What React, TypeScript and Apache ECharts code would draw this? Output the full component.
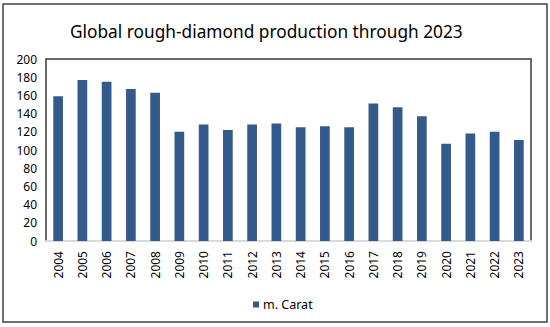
import React, { useEffect, useRef } from "react";
import * as echarts from "echarts";

const years = ["2004","2005","2006","2007","2008","2009","2010","2011","2012","2013","2014","2015","2016","2017","2018","2019","2020","2021","2022","2023"];
const carats = [159, 177, 175, 167, 163, 120, 128, 122, 128, 129, 125, 126, 125, 151, 147, 137, 107, 118, 120, 111];
const seriesName = "m. Carat";
const titleText = "Global rough-diamond production through 2023";

const FONT = "'Noto Sans', sans-serif";

export default function App() {
  const ref = useRef<HTMLDivElement>(null);
  useEffect(() => {
    if (!ref.current) return;
    const chart = echarts.init(ref.current, null, { renderer: "svg" });
    chart.setOption({
      animation: false,
      backgroundColor: "#ffffff",
      title: {
        text: titleText,
        left: 65,
        top: 18,
        textStyle: { fontFamily: FONT, fontSize: 17.3, fontWeight: "normal", color: "#000" },
      },
      grid: {
        left: 46,
        right: 19,
        top: 59,
        bottom: 86,
        show: true,
        borderColor: "#3a3a3a",
        borderWidth: 1.5,
        backgroundColor: "transparent",
      },
      legend: {
        data: [seriesName],
        left: 248,
        top: 293,
        itemWidth: 6,
        itemHeight: 6,
        itemGap: 4,
        icon: "rect",
        textStyle: { fontFamily: FONT, fontSize: 12.5, color: "#000", padding: [0, 0, 0, -1] },
      },
      xAxis: {
        type: "category",
        data: years,
        axisLine: { show: true, lineStyle: { color: "#d9d9d9", width: 2 } },
        axisTick: { show: false },
        axisLabel: { rotate: 90, fontFamily: FONT, fontSize: 12, color: "#000", margin: 10 },
      },
      yAxis: {
        type: "value",
        min: 0,
        max: 200,
        interval: 20,
        splitLine: { show: false },
        axisLine: { show: false },
        axisTick: { show: false },
        axisLabel: { fontFamily: FONT, fontSize: 12, color: "#000", margin: 9 },
      },
      series: [
        {
          name: seriesName,
          type: "bar",
          data: carats,
          barWidth: "40%",
          itemStyle: { color: "#345a8c" },
        },
      ],
      graphic: [
        {
          type: "rect",
          shape: { x: 3, y: 4, width: 544, height: 318 },
          style: { fill: "none", stroke: "#404040", lineWidth: 1.5 },
          silent: true,
        },
      ],
    });
    return () => chart.dispose();
  }, []);
  return (
    <div
      ref={ref}
      style={{ position: "fixed", left: 0, top: 0, width: 550, height: 327, background: "#fff" }}
    />
  );
}
